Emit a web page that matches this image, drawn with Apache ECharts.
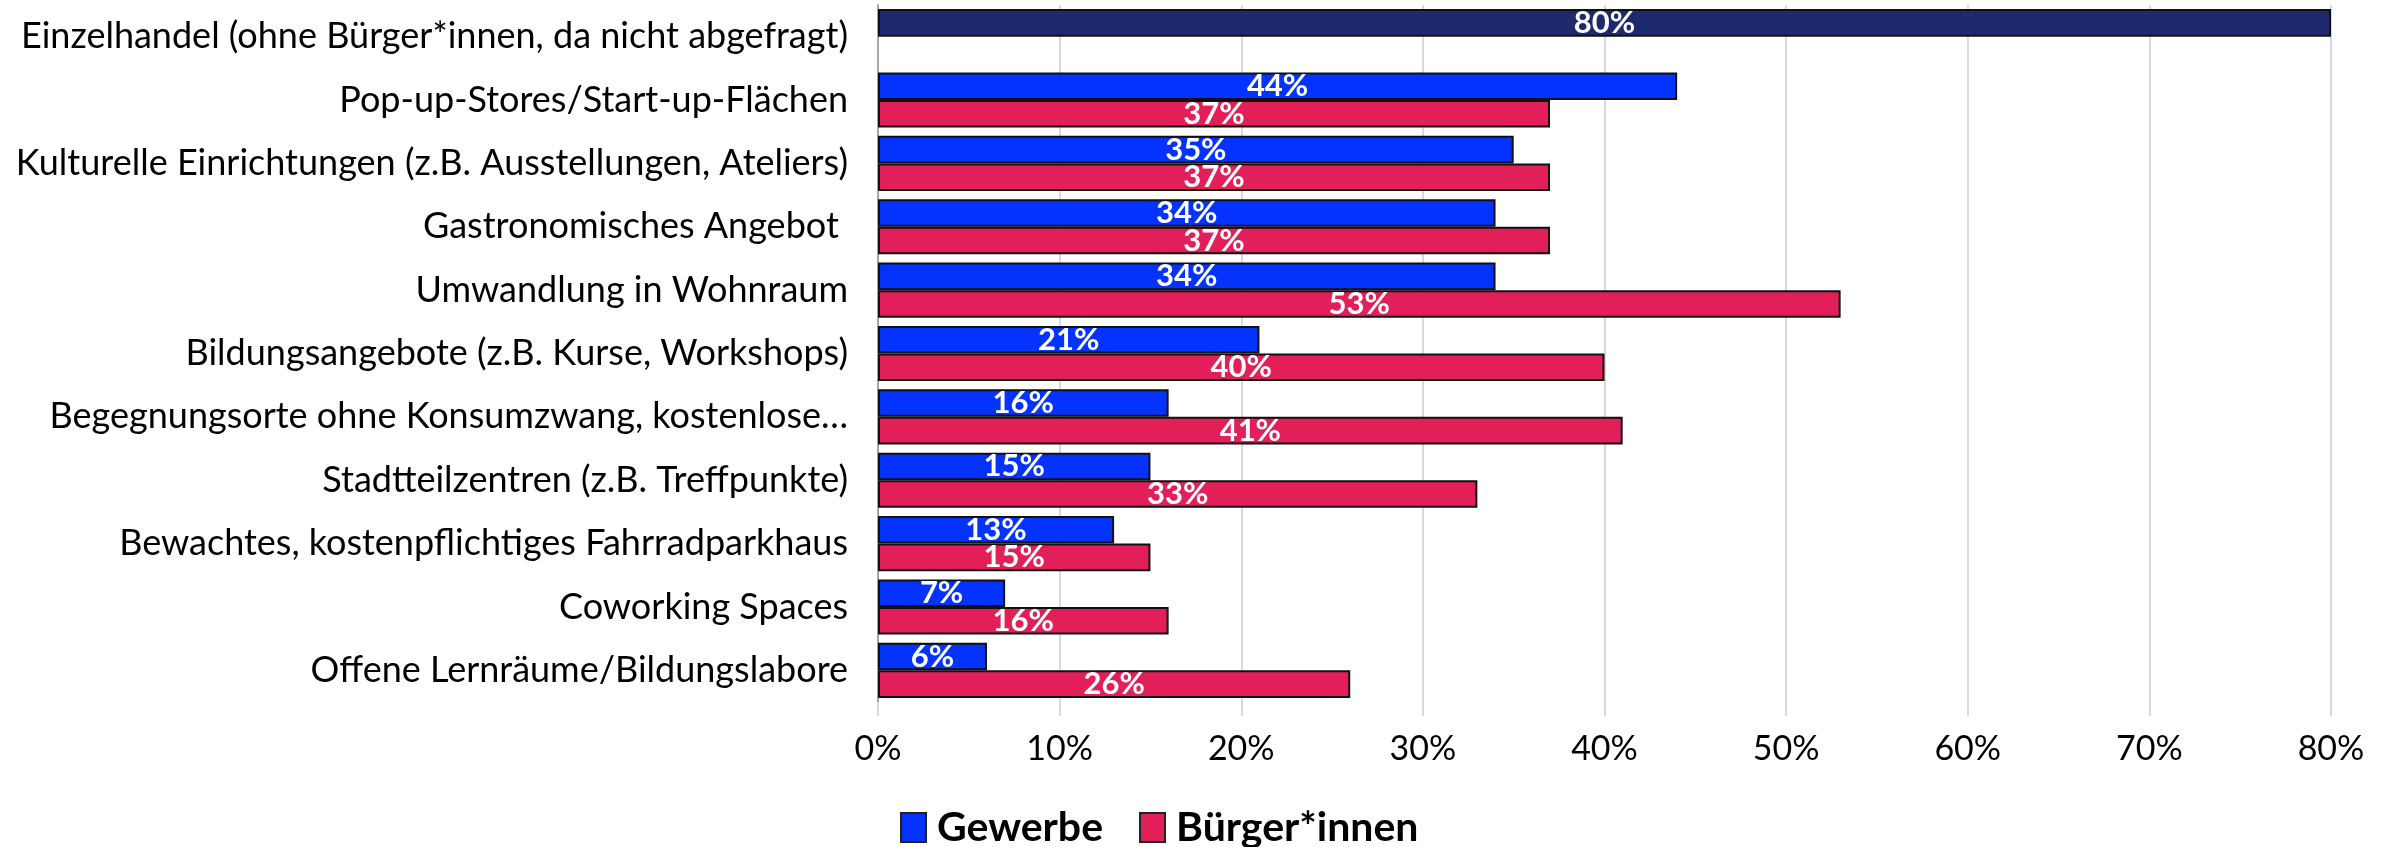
<!DOCTYPE html>
<html>
<head>
<meta charset="utf-8">
<script src="https://cdn.jsdelivr.net/npm/echarts@6/dist/echarts.min.js"></script>
<style>
  html, body { margin: 0; padding: 0; background: #ffffff; }
  #chart { width: 2387px; height: 847px; }
</style>
</head>
<body>
<div id="chart"></div>
<script>
// Nutzungswünsche für leerstehende Ladenflächen (Anteile in %)
const categories = [
  'Einzelhandel (ohne Bürger*innen, da nicht abgefragt)',
  'Pop-up-Stores/Start-up-Flächen',
  'Kulturelle Einrichtungen (z.B. Ausstellungen, Ateliers)',
  'Gastronomisches Angebot ',
  'Umwandlung in Wohnraum',
  'Bildungsangebote (z.B. Kurse, Workshops)',
  'Begegnungsorte ohne Konsumzwang, kostenlose…',
  'Stadtteilzentren (z.B. Treffpunkte)',
  'Bewachtes, kostenpflichtiges Fahrradparkhaus',
  'Coworking Spaces',
  'Offene Lernräume/Bildungslabore'
];
const gewerbe = [80, 44, 35, 34, 34, 21, 16, 15, 13, 7, 6];
const buerger = [null, 37, 37, 37, 53, 40, 41, 33, 15, 16, 26];
const seriesNames = ['Gewerbe', 'Bürger*innen'];
const xTicks = { min: 0, max: 80, step: 10 };

const FONT = 'Lato, "Noto Sans", sans-serif';
const COLOR_GEWERBE = '#0433ff';
const COLOR_BUERGER = '#e31f5a';
const COLOR_EINZEL = '#1e2a6e';

const chart = echarts.init(document.getElementById('chart'), null, { renderer: 'canvas' });

const barLabel = {
  show: true,
  position: 'inside',
  color: '#ffffff',
  fontFamily: FONT,
  fontWeight: 'bold',
  fontSize: 31,
  formatter: p => p.value == null ? '' : p.value + '%'
};
const border = { borderColor: '#111111', borderWidth: 2 };

chart.setOption({
  backgroundColor: '#ffffff',
  animation: false,
  grid: { left: 878, right: 56, top: 5, bottom: 145, containLabel: false },
  legend: {
    data: seriesNames,
    left: 895,
    top: 802,
    itemWidth: 25,
    itemHeight: 29,
    itemGap: 36,
    icon: 'rect',
    itemStyle: { borderColor: '#222222', borderWidth: 2 },
    textStyle: { fontFamily: FONT, fontWeight: 'bold', fontSize: 41, color: '#000000', padding: [0, 0, 0, 6] }
  },
  xAxis: {
    type: 'value',
    min: xTicks.min,
    max: xTicks.max,
    interval: xTicks.step,
    axisLine: { show: false },
    axisTick: { show: true, length: 14, lineStyle: { color: '#d9d9d9', width: 2 } },
    splitLine: { show: true, lineStyle: { color: '#d9d9d9', width: 2 } },
    axisLabel: {
      formatter: '{value}%',
      fontFamily: FONT,
      fontSize: 34,
      color: '#000000',
      margin: 30
    }
  },
  yAxis: {
    type: 'category',
    data: categories,
    inverse: true,
    axisLine: { show: true, lineStyle: { color: '#a6a6a6', width: 2 } },
    axisTick: { show: false },
    axisLabel: {
      fontFamily: FONT,
      fontSize: 36,
      color: '#000000',
      margin: 30
    }
  },
  series: [
    {
      name: seriesNames[0],
      type: 'bar',
      data: gewerbe.map((v, i) => i === 0 ? { value: v, itemStyle: { color: COLOR_EINZEL } } : v),
      itemStyle: Object.assign({ color: COLOR_GEWERBE }, border),
      barGap: '0%',
      barCategoryGap: '13%',
      label: barLabel
    },
    {
      name: seriesNames[1],
      type: 'bar',
      data: buerger,
      itemStyle: Object.assign({ color: COLOR_BUERGER }, border),
      barGap: '0%',
      barCategoryGap: '13%',
      label: barLabel
    }
  ]
});
</script>
</body>
</html>
